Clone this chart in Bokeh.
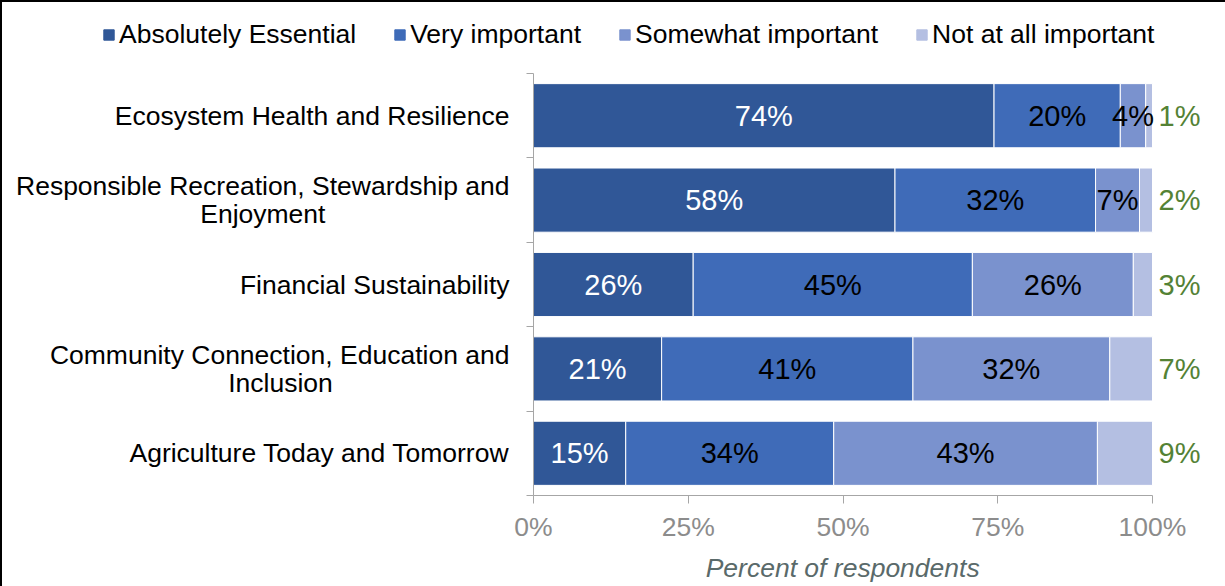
from bokeh.plotting import figure
from bokeh.layouts import column, row
from bokeh.models import (ColumnDataSource, Range1d, FixedTicker, PrintfTickFormatter,
                          Legend, LegendItem)
from bokeh.core.properties import value
from bokeh.embed import file_html
from bokeh.resources import INLINE

# ---------------- data ----------------
categories = [
    "Ecosystem Health and Resilience",
    "Responsible Recreation, Stewardship and\nEnjoyment",
    "Financial Sustainability",
    "Community Connection, Education and\nInclusion",
    "Agriculture Today and Tomorrow",
]
series_names = ["Absolutely Essential", "Very important", "Somewhat important", "Not at all important"]
absolutely_essential = [74.4, 58.4, 25.8, 20.7, 14.9]
very_important = [20.4, 32.4, 45.1, 40.6, 33.6]
somewhat_important = [4.1, 7.1, 26.0, 31.8, 42.6]
not_at_all_important = [1.1, 2.1, 3.1, 6.9, 8.9]
x_ticks = [0, 25, 50, 75, 100]
x_title = "Percent of respondents"

# ---------------- style ----------------
colors = ["#305797", "#3F6BB8", "#7A92CE", "#B4BFE2"]
label_colors = ["white", "black", "black", "#548235"]
FONT = "Liberation Sans"
FS_PX = 26.5
FS = f"{FS_PX}px"
DFS = "29px"
NBSP_W = 0.278 * FS_PX          # width of a (no-break) space in Arial/Liberation Sans
# non-breaking spaces appended to a wrapped label's 2nd line so it sits centred under the 1st
second_line_pad = [0, 25, 0, 24, 0]

series = [absolutely_essential, very_important, somewhat_important, not_at_all_important]
keys = ["s0", "s1", "s2", "s3"]
n = len(categories)
ypos = [n - 0.5 - i for i in range(n)]

data = {"y": ypos}
for k, s in zip(keys, series):
    data[k] = s
source = ColumnDataSource(data)

W = 1223
LEFT = 531
PX_PER_PCT = 6.19
FRAME_W = W - LEFT
X_END = FRAME_W / PX_PER_PCT

# ---------------- main chart ----------------
p = figure(width=W, height=513, output_backend="svg", toolbar_location=None,
           x_range=Range1d(0, X_END), y_range=Range1d(0, n),
           min_border_left=LEFT, min_border_right=0, min_border_top=0, min_border_bottom=91)
p.outline_line_color = None
p.grid.visible = False

renderers = p.hbar_stack(keys, y="y", height=0.76, color=colors, source=source,
                         line_color="white", line_width=1)

for j, s in enumerate(series):
    lefts = [sum(series[m][i] for m in range(j)) for i in range(n)]
    labels = [f"{round(v)}%" for v in s]
    if j < 3:
        xs = [l + v / 2 for l, v in zip(lefts, s)]
        p.text(x=xs, y=ypos, text=labels, text_align="center", text_baseline="middle",
               text_color=label_colors[j], text_font=value(FONT), text_font_size=DFS)
    else:
        xs = [l + v for l, v in zip(lefts, s)]
        p.text(x=xs, y=ypos, text=labels, text_align="left", text_baseline="middle",
               x_offset=6, text_color=label_colors[j], text_font=value(FONT),
               text_font_size=DFS)

# x axis
xa = p.xaxis[0]
xa.bounds = (0, 100)
xa.ticker = FixedTicker(ticks=x_ticks, minor_ticks=[])
xa.formatter = PrintfTickFormatter(format="%d%%")
xa.axis_line_color = "#A6A6A6"
xa.major_tick_line_color = "#A6A6A6"
xa.major_tick_out = 8
xa.major_tick_in = 0
xa.minor_tick_out = 0
xa.major_label_text_font = FONT
xa.major_label_text_font_size = FS
xa.major_label_text_color = "#8C8C8C"
xa.major_label_standoff = 8
# the axis title is centred on the frame; pad it so it centres under the 0-100 % span
shift_px = (X_END / 2 - 50) * PX_PER_PCT
xa.axis_label = x_title + "\u00a0" * round(2 * shift_px / NBSP_W)
xa.axis_label_text_font = FONT
xa.axis_label_text_font_size = FS
xa.axis_label_text_font_style = "italic"
xa.axis_label_text_color = "#5A6A6A"
xa.axis_label_standoff = 8

# y axis
def axis_label(cat, pad):
    parts = cat.split("\n")
    if len(parts) > 1:
        parts[-1] = parts[-1] + "\u00a0" * pad
    return "\n".join(parts)

ya = p.yaxis[0]
ya.ticker = FixedTicker(ticks=ypos, minor_ticks=list(range(n + 1)))
ya.major_label_overrides = {y: axis_label(c, pd) for y, c, pd in zip(ypos, categories, second_line_pad)}
ya.axis_line_color = "#A6A6A6"
ya.major_tick_out = 0
ya.major_tick_in = 0
ya.minor_tick_out = 7
ya.minor_tick_in = 0
ya.minor_tick_line_color = "#A6A6A6"
ya.major_label_text_font = FONT
ya.major_label_text_font_size = FS
ya.major_label_text_color = "black"
ya.major_label_text_line_height = 0.95
ya.major_label_standoff = 17

# ---------------- legend strip ----------------
pl = figure(width=W, height=71, output_backend="svg", toolbar_location=None,
            x_range=Range1d(0, 1), y_range=Range1d(0, 1),
            x_axis_type=None, y_axis_type=None,
            min_border_left=0, min_border_right=0, min_border_top=0, min_border_bottom=0)
pl.outline_line_color = None
pl.grid.visible = False
# zero-size proxy bars that only carry the legend swatches
proxies = [pl.hbar(y=[0.5], left=[0], right=[0], height=0, color=c) for c in colors]
legend = Legend(items=[LegendItem(label=nm, renderers=[r]) for nm, r in zip(series_names, proxies)],
                orientation="horizontal", location=(100, 23))
legend.glyph_width = 13
legend.glyph_height = 13
legend.label_standoff = 4
legend.spacing = 37
legend.padding = 0
legend.margin = 0
legend.border_line_color = None
legend.background_fill_alpha = 0
legend.label_text_font = FONT
legend.label_text_font_size = FS
legend.label_text_color = "black"
pl.add_layout(legend, "center")

layout = column(row(pl), row(p), spacing=0)
layout.styles = {"border-left": "2px solid black", "border-top": "2px solid black"}

open("out.html", "w").write(file_html(layout, INLINE))
